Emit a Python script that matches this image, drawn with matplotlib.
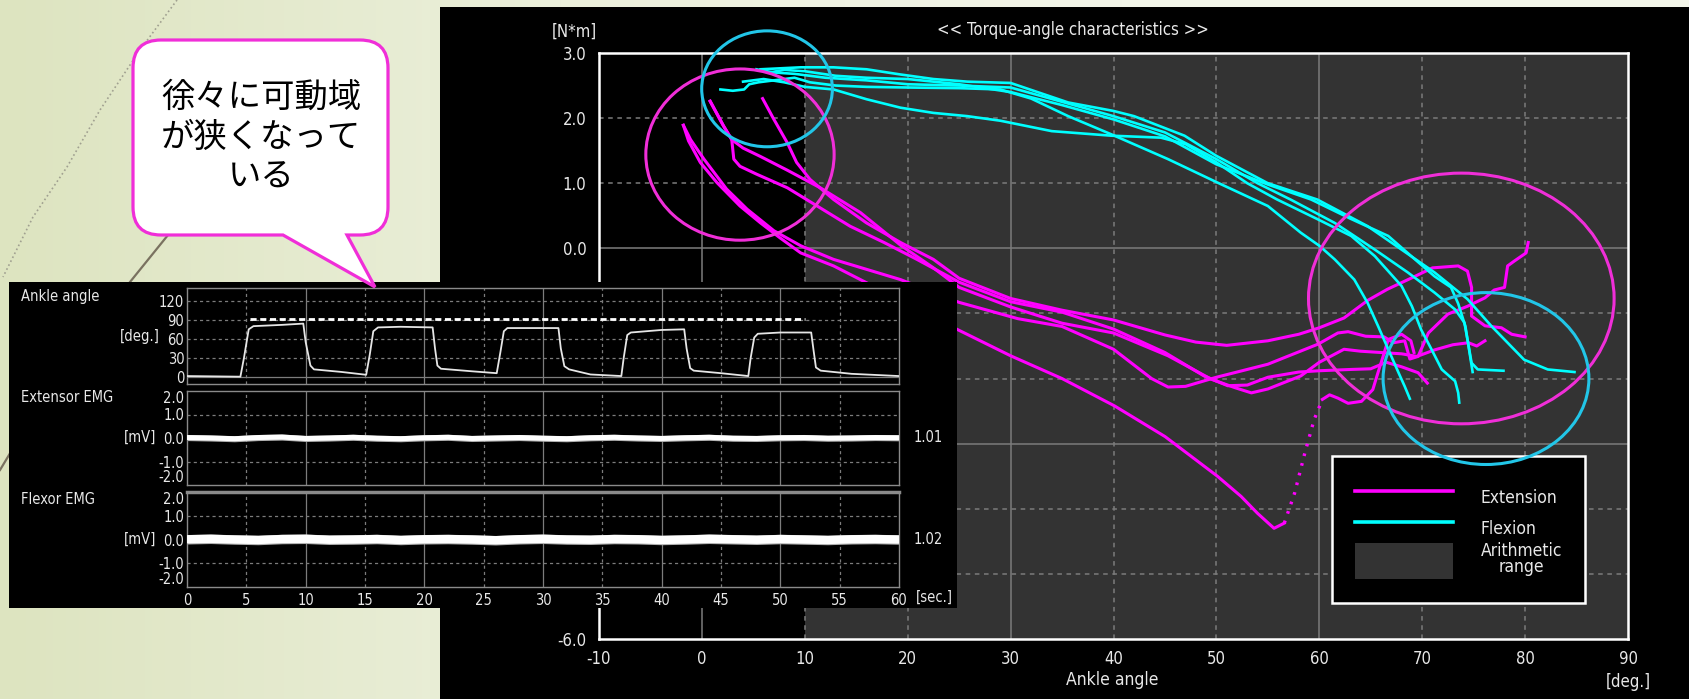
import numpy as np
import matplotlib
matplotlib.use("Agg")
import matplotlib.pyplot as plt
from matplotlib.patches import Rectangle, Ellipse, Patch, PathPatch
from matplotlib.lines import Line2D
from matplotlib.path import Path
from matplotlib.colors import LinearSegmentedColormap

W, H, DPI = 1690, 699, 100
FONT = ['Liberation Sans Narrow', 'DejaVu Sans']
JP = ['Noto Sans CJK JP', 'DejaVu Sans']
plt.rcParams['font.family'] = FONT
plt.rcParams['font.stretch'] = 'condensed'
plt.rcParams['axes.unicode_minus'] = False

# ---------------- data: torque-angle curves (angle [deg], torque [N*m]) ----------------
ext1_x = [5.9, 7.0, 8.3, 9.2, 10.5, 12.8, 16.0, 19.3, 22.5, 25.0, 30, 35, 40, 45, 48, 51, 55, 58, 60,
          62.4, 64.7, 66.6, 69.3, 71, 73.5, 74.4, 74.8, 74.8, 76.1, 77.7, 78.7, 80]
ext1_y = [2.30, 1.98, 1.62, 1.32, 1.06, 0.75, 0.39, 0.09, -0.17, -0.46, -0.77, -0.95, -1.10, -1.33, -1.44,
          -1.49, -1.42, -1.32, -1.22, -1.07, -0.80, -0.63, -0.43, -0.30, -0.27, -0.35, -0.60, -1.04, -1.19,
          -1.22, -1.32, -1.36]

ext2_x = [0.8, 2.1, 2.9, 3.1, 3.7, 5.3, 8.3, 11.2, 14.4, 17.7, 20.9, 25, 30, 35, 40, 45, 48.8, 51.1, 53,
          55, 58, 60, 63.1, 65, 66.5, 68, 69.6, 70.5]
ext2_y = [2.26, 1.88, 1.67, 1.37, 1.26, 1.14, 0.93, 0.65, 0.34, 0.09, -0.17, -0.52, -0.82, -0.98, -1.24,
          -1.6, -1.96, -2.11, -2.1, -1.98, -1.9, -1.88, -1.86, -1.85, -1.75, -1.82, -1.91, -2.07]

ext3_x = [0.8, 2.1, 2.9, 4.0, 5.7, 8.3, 11.5, 15.4, 19.3, 22.5, 25, 30, 35, 40, 45.3, 49.5, 51.8, 53.4,
          55, 58.2, 60, 62.4, 64, 66, 68, 69.5, 71.2, 73, 74.5, 75.3, 76.1]
ext3_y = [2.26, 1.88, 1.67, 1.54, 1.41, 1.2, 0.93, 0.55, 0.05, -0.3, -0.6, -0.9, -1.15, -1.3, -1.65,
          -2.01, -2.14, -2.22, -2.16, -1.96, -1.75, -1.55, -1.58, -1.6, -1.62, -1.66, -1.56, -1.48, -1.45,
          -1.50, -1.42]

ext4_x = [-1.8, -1.1, 0.2, 2.4, 4.4, 7.0, 9.6, 12.8, 19.3, 25, 30.7, 35, 40, 43.7, 45.3, 47, 50, 55,
          59.9, 61.8, 62.8, 64.5, 66.3, 67.2, 68.3, 68.8, 69.6, 70.6, 72.5, 74.4, 76.1, 77, 78, 78.3, 79,
          80.1, 80.3]
ext4_y = [1.89, 1.67, 1.37, 0.91, 0.6, 0.27, 0.04, -0.17, -0.48, -0.83, -1.08, -1.2, -1.55, -2.0, -2.13,
          -2.12, -1.98, -1.78, -1.47, -1.30, -1.28, -1.35, -1.36, -1.45, -1.42, -1.7, -1.66, -1.3, -1.01,
          -0.89, -0.76, -0.64, -0.6, -0.27, -0.19, -0.07, 0.09]

ext5_x = [-1.8, -1.3, -0.16, 1.46, 3.7, 5.7, 7.6, 9.6, 12.8, 15.4, 25, 30, 35, 40.1, 45, 50.1, 52.4, 54,
          55.6, 56.6, 57.6, 58.6, 59.5, 60.3, 61, 61.8, 62.8, 64.1, 65.2, 65.7, 66.2, 66.7, 68, 68.9, 69.2]
ext5_y = [1.89, 1.65, 1.32, 1.01, 0.65, 0.39, 0.16, -0.07, -0.27, -0.48, -1.26, -1.65, -2.0, -2.42, -2.89,
          -3.5, -3.81, -4.07, -4.30, -4.22, -3.76, -3.14, -2.63, -2.32, -2.25, -2.30, -2.38, -2.35, -2.17,
          -1.91, -1.66, -1.40, -1.32, -1.42, -1.6]
ext5_sparse = (19, 24)   # fast-changing stretch, drawn as sparse dots

flx1_x = [5.7, 9.6, 12.8, 16, 19.3, 22.5, 25.8, 30, 35.6, 40, 42, 46.9, 50, 55, 59.8, 64.7, 68, 71.2,
          74.4, 76.7, 78.3, 79.9, 82.2, 84.8]
flx1_y = [2.75, 2.78, 2.78, 2.75, 2.67, 2.6, 2.56, 2.54, 2.24, 2.11, 2.03, 1.73, 1.42, 1.0, 0.75, 0.34,
          -0.02, -0.37, -0.78, -1.19, -1.45, -1.71, -1.86, -1.90]

flx2_x = [5.3, 7, 9, 12, 16, 20, 25, 30, 35, 40, 45, 50, 54, 57.2, 61.5, 65.4, 68.6, 71.2, 73.2, 74.1,
          74.4, 74.8, 75.4, 77.9]
flx2_y = [2.75, 2.7, 2.68, 2.62, 2.58, 2.52, 2.5, 2.47, 2.25, 2.03, 1.78, 1.37, 1.0, 0.75, 0.39, -0.02,
          -0.37, -0.68, -0.94, -1.14, -1.40, -1.76, -1.86, -1.88]

flx3_x = [4.0, 6, 8, 10, 12.8, 16, 19.3, 22.5, 25.8, 29, 34, 39.8, 44.6, 47, 50, 53, 55.9, 59.8, 63.1,
          65.4, 68, 69, 69.9, 70.9, 71.9, 73.2, 73.5, 73.6]
flx3_y = [2.56, 2.6, 2.55, 2.48, 2.44, 2.29, 2.16, 2.08, 2.03, 1.96, 1.80, 1.73, 1.70, 1.6, 1.32, 1.0,
          0.75, 0.45, 0.19, -0.12, -0.58, -0.89, -1.25, -1.55, -1.86, -2.04, -2.22, -2.37]

flx4_x = [1.8, 3, 4.1, 4.6, 5.5, 7, 9, 10.5, 13, 16, 20, 25, 29, 32, 35.6, 39.8, 45.3, 50.1, 55, 58.2,
          60, 61.5, 63.4, 64.7, 65.7, 66.7, 67.7, 68.3, 68.8]
flx4_y = [2.44, 2.42, 2.44, 2.52, 2.55, 2.58, 2.62, 2.55, 2.5, 2.48, 2.47, 2.46, 2.44, 2.3, 2.03, 1.75,
          1.37, 1.01, 0.65, 0.24, 0.04, -0.17, -0.48, -0.84, -1.19, -1.55, -1.91, -2.12, -2.31]

flx5_x = [6.5, 8, 10, 13, 16, 20, 25, 30, 35, 40, 45, 50, 55, 59.2, 63.1, 66.7, 69.3, 71.2, 72.8, 73.5,
          74.2, 74.6, 74.9]
flx5_y = [2.7, 2.74, 2.72, 2.65, 2.62, 2.6, 2.52, 2.4, 2.2, 1.98, 1.72, 1.29, 0.98, 0.75, 0.45, 0.19,
          -0.17, -0.43, -0.6, -0.85, -1.2, -1.6, -1.9]

legend_labels = ['Extension', 'Flexion', 'Arithmetic\nrange']
arith_range = (10, 90)

# ---------------- data: time traces (inset) ----------------
ang_t = [0, 4.5, 4.8, 5.2, 5.6, 8, 9.8, 10.0, 10.4, 10.7, 13, 15.1, 15.4, 15.7, 16.1, 18, 20.7, 20.9,
         21.1, 21.4, 24, 26.1, 26.4, 26.7, 27.0, 29, 31.3, 31.5, 31.8, 32.2, 34, 36.6, 36.8, 37.1, 37.4,
         40, 41.9, 42.1, 42.4, 42.7, 45, 47.3, 47.5, 47.8, 48.1, 50, 52.6, 52.8, 53.0, 53.4, 56, 60]
ang_v = [1.5, 0.5, 30, 75, 80, 82, 84, 55, 18, 12, 8, 3.5, 35, 72, 78, 79, 78, 45, 18, 13, 9, 6, 38, 72,
         77, 77, 77, 45, 17, 12, 4, 1.5, 30, 66, 70, 74, 75, 45, 14, 10, 6, 1.5, 30, 62, 68, 70, 70, 42,
         15, 10, 5, 1.5]
target_t = [5.3, 52.1]
target_v = [92, 92]

emg_t = list(range(0, 61, 2))
ext_emg = [0.02, 0.0, -0.03, 0.02, 0.04, -0.02, 0.0, 0.03, -0.01, -0.03, 0.01, 0.03, -0.02, 0.0, 0.02,
           -0.01, -0.03, 0.01, 0.03, 0.0, -0.02, 0.01, 0.03, -0.01, -0.02, 0.01, 0.02, -0.01, 0.0, 0.02, 0.01]
flex_emg = [0.01, 0.03, 0.0, -0.02, 0.02, 0.03, -0.01, 0.0, 0.02, -0.02, 0.01, 0.02, 0.0, -0.03, 0.01,
            0.03, 0.0, -0.01, 0.02, 0.01, -0.02, 0.0, 0.03, 0.01, -0.01, 0.02, 0.0, -0.02, 0.01, 0.02, 0.0]
ext_gain, flex_gain = '1.01', '1.02'

callout_lines = ['徐々に可動域', 'が狭くなって', 'いる']

MAG = '#ff00ff'
CYA = '#00ffff'
GRID = '#7c7c7c'
TXT = '#e8e8e8'


def frac(l, t, r, b):
    return [l / W, 1 - b / H, (r - l) / W, (b - t) / H]


def ftext(x, y, s, **kw):
    kw.setdefault('color', TXT)
    kw.setdefault('ha', 'center')
    kw.setdefault('va', 'center')
    fig.text(x / W, 1 - y / H, s, **kw)


fig = plt.figure(figsize=(W / DPI, H / DPI), dpi=DPI)
fig.patch.set_facecolor('#eef1e0')

# slide background
bg = fig.add_axes([0, 0, 1, 1], zorder=0)
cm = LinearSegmentedColormap.from_list('bgc', ['#dde4c0', '#ecf0dc', '#f4f6ea', '#f4f6ea'])
bg.imshow(np.linspace(0, 1, 256)[None, :], aspect='auto', cmap=cm, extent=[0, W, H, 0])
bg.plot([177, 140, 100, 67, 33, 3], [0, 50, 110, 167, 217, 277], color='#a0a090', lw=1.2, ls=':')
bg.plot([185, 130, 60, 0], [214, 282, 370, 470], color='#7a7260', lw=1.6)
bg.set_xlim(0, W)
bg.set_ylim(H, 0)
bg.axis('off')

fig.add_artist(Rectangle((440 / W, 0), (W - 440) / W, (H - 7) / H, transform=fig.transFigure,
                         facecolor='black', edgecolor='none', zorder=0.5))

# ---------------- main torque-angle chart ----------------
ax = fig.add_axes(frac(599, 53, 1628, 639), zorder=1)
ax.set_facecolor('black')
ax.set_xlim(-10, 90)
ax.set_ylim(-6, 3)
ax.axvspan(*arith_range, color='#333333', zorder=0, lw=0)
for v in range(0, 90, 10):
    ax.axvline(v, color=GRID, lw=1.1, ls='-' if v % 30 == 0 else (0, (3, 3)), zorder=1)
for v in range(-5, 3):
    ax.axhline(v, color=GRID, lw=1.1, ls='-' if v % 3 == 0 else (0, (3, 3)), zorder=1)

for xs, ys in [(ext1_x, ext1_y), (ext2_x, ext2_y), (ext3_x, ext3_y), (ext4_x, ext4_y)]:
    ax.plot(xs, ys, color=MAG, lw=2.2, zorder=3, solid_joinstyle='round')
i0, i1 = ext5_sparse
ax.plot(ext5_x[:i0 + 1], ext5_y[:i0 + 1], color=MAG, lw=2.2, zorder=3)
ax.plot(ext5_x[i0:i1], ext5_y[i0:i1], color=MAG, lw=2.4, ls=(0, (0.8, 2.2)), zorder=3)
ax.plot(ext5_x[i1 - 1:], ext5_y[i1 - 1:], color=MAG, lw=2.2, zorder=3)
for xs, ys in [(flx1_x, flx1_y), (flx2_x, flx2_y), (flx3_x, flx3_y), (flx4_x, flx4_y), (flx5_x, flx5_y)]:
    ax.plot(xs, ys, color=CYA, lw=1.9, zorder=4, solid_joinstyle='round')

ax.set_xticks(range(-10, 91, 10))
ax.set_yticks(range(-6, 4))
ax.set_yticklabels([f'{v:.1f}' for v in range(-6, 4)])
ax.tick_params(length=0, colors=TXT, labelsize=12)
ax.tick_params(axis='x', pad=8)
ax.tick_params(axis='y', pad=9)
for s in ax.spines.values():
    s.set_color('white')
    s.set_linewidth(1.8)

handles = [Line2D([], [], color=MAG, lw=2.6), Line2D([], [], color=CYA, lw=2.6),
           Patch(facecolor='#333333', edgecolor='none')]
leg = ax.legend(handles, legend_labels, loc='upper left', bbox_to_anchor=(1332 / W, 1 - 456 / H),
                bbox_transform=fig.transFigure, borderaxespad=0, frameon=True, fancybox=False,
                facecolor='black', edgecolor='white', framealpha=1, fontsize=12.5, labelcolor=TXT,
                handlelength=5.6, handleheight=2.8, handletextpad=1.6, labelspacing=-0.25, borderpad=1.35)
leg.get_frame().set_linewidth(1.8)
for t in leg.get_texts():
    t.set_linespacing(0.85)
    t.set_multialignment('center')

# hand-drawn emphasis ellipses (data coordinates)
for (cx, cy, w, h, c) in [(3.7, 1.44, 18.3, 2.63, '#f02ed8'), (6.33, 2.45, 12.7, 1.78, '#22c6e8'),
                          (73.8, -0.77, 29.7, 3.85, '#f02ed8'), (76.2, -2.0, 20.0, 2.64, '#22c6e8')]:
    ax.add_patch(Ellipse((cx, cy), w, h, fill=False, edgecolor=c, lw=2.2, zorder=7, clip_on=False))

ftext(1073, 30, '<< Torque-angle characteristics >>', fontsize=12)
ftext(574, 32, '[N*m]', fontsize=12)
ftext(1112, 680, 'Ankle angle', fontsize=12.5)
ftext(1628, 682, '[deg.]', fontsize=12)

# ---------------- inset: time traces ----------------
fig.add_artist(Rectangle((9 / W, 1 - 608 / H), (957 - 9) / W, (608 - 282) / H, transform=fig.transFigure,
                         facecolor='black', edgecolor='none', zorder=2))


def inset_axes(top, bottom):
    a = fig.add_axes(frac(187, top, 899, bottom), zorder=3)
    a.set_facecolor('black')
    a.set_xlim(0, 60)
    for t in range(5, 60, 5):
        a.axvline(t, color=GRID, lw=0.9, ls='-' if t % 10 == 0 else (0, (2.5, 2.5)), zorder=1)
    a.tick_params(length=0, colors=TXT, labelsize=10.5, pad=2)
    for s in a.spines.values():
        s.set_color('#8a8a8a')
        s.set_linewidth(1.0)
    return a


a1 = inset_axes(288, 384)
a1.set_ylim(-11, 140)
for v in [30, 60, 90, 120]:
    a1.axhline(v, color=GRID, lw=0.9, ls=(0, (2.5, 2.5)), zorder=1)
a1.axhline(0, color=GRID, lw=0.9, zorder=1)
a1.plot(target_t, target_v, color='white', lw=2.0, ls=(0, (2.2, 1.3)), zorder=3)
a1.plot(ang_t, ang_v, color='#e6e6e6', lw=1.3, zorder=3)
a1.set_yticks([0, 30, 60, 90, 120])
a1.set_xticks([])

a2 = inset_axes(391, 485)
a3 = inset_axes(492, 587)
for a, vals, lw, band in [(a2, ext_emg, 3.6, 0.13), (a3, flex_emg, 6.0, 0.2)]:
    a.set_ylim(-2, 2)
    for v in [-1, 1]:
        a.axhline(v, color=GRID, lw=0.9, ls=(0, (2.5, 2.5)), zorder=1)
    a.fill_between(emg_t, np.array(vals) - band, np.array(vals) + band, color='#b0b0b0', lw=0, zorder=2)
    a.plot(emg_t, vals, color='white', lw=lw, zorder=3)
    a.set_yticks([-2, -1, 0, 1, 2])
    a.set_yticklabels(['-2.0', '-1.0', '0.0', '1.0', '2.0'])
    labs = a.get_yticklabels()
    labs[0].set_va('bottom')
    labs[-1].set_va('top')
a2.set_xticks([])
a3.spines['top'].set_linewidth(2.5)
a3.set_xticks(range(0, 61, 5))
a3.tick_params(axis='x', pad=4)

ftext(21, 296, 'Ankle angle', fontsize=10.5, ha='left')
ftext(140, 337, '[deg.]', fontsize=10.5)
ftext(21, 397, 'Extensor EMG', fontsize=10.5, ha='left')
ftext(140, 437, '[mV]', fontsize=10.5)
ftext(21, 500, 'Flexor EMG', fontsize=10.5, ha='left')
ftext(140, 539, '[mV]', fontsize=10.5)
ftext(928, 437, ext_gain, fontsize=10.5)
ftext(928, 539, flex_gain, fontsize=10.5)
ftext(934, 597, '[sec.]', fontsize=10.5)

# ---------------- speech-bubble callout ----------------
ov = fig.add_axes([0, 0, 1, 1], zorder=10)
ov.set_xlim(0, W)
ov.set_ylim(H, 0)
ov.axis('off')
ov.patch.set_alpha(0)
x0, x1, y0, y1, r = 133, 388, 40, 235, 28
verts = [(x0 + r, y0), (x1 - r, y0), (x1, y0), (x1, y0 + r), (x1, y1 - r), (x1, y1), (x1 - r, y1),
         (347, y1), (375, 287), (283, y1), (x0 + r, y1), (x0, y1), (x0, y1 - r), (x0, y0 + r), (x0, y0),
         (x0 + r, y0), (x0 + r, y0)]
codes = [Path.MOVETO, Path.LINETO, Path.CURVE3, Path.CURVE3, Path.LINETO, Path.CURVE3, Path.CURVE3,
         Path.LINETO, Path.LINETO, Path.LINETO, Path.LINETO, Path.CURVE3, Path.CURVE3, Path.LINETO,
         Path.CURVE3, Path.CURVE3, Path.CLOSEPOLY]
ov.add_patch(PathPatch(Path(verts, codes), facecolor='white', edgecolor='#f02ed8', lw=2.3,
                       joinstyle='miter'))
for k, line in enumerate(callout_lines):
    ov.text(261, 97 + 40 * k, line, ha='center', va='center', fontsize=24, family=JP, color='black',
            fontstretch='normal')

fig.savefig('out.png', dpi=DPI, facecolor=fig.get_facecolor())
